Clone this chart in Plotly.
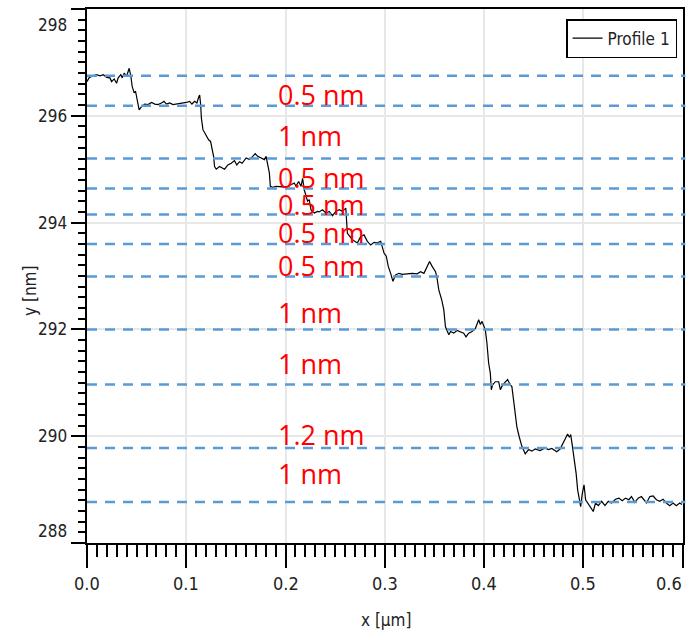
import plotly.graph_objects as go

# ---- profile data (x in µm, y in nm) ----
x_um = [
    0.0000, 0.0020, 0.0047, 0.0097, 0.0131, 0.0164, 0.0198, 0.0231, 0.0248, 0.0274,
    0.0298, 0.0314, 0.0341, 0.0355, 0.0375, 0.0399, 0.0425, 0.0442, 0.0455, 0.0475,
    0.0489, 0.0505, 0.0515, 0.0525,
    0.0549, 0.0582, 0.0615, 0.0650, 0.0683, 0.0716, 0.0750, 0.0776, 0.0800, 0.0833,
    0.0866, 0.0901, 0.0934, 0.0967, 0.1001, 0.1034, 0.1057, 0.1084, 0.1107, 0.1127,
    0.1135, 0.1145, 0.1152, 0.1168, 0.1202, 0.1225, 0.1245, 0.1262, 0.1275,
    0.1285, 0.1302, 0.1335, 0.1386, 0.1419, 0.1453, 0.1486, 0.1509, 0.1536, 0.1563,
    0.1603, 0.1637, 0.1670, 0.1694, 0.1720, 0.1754, 0.1787, 0.1804, 0.1820, 0.1837,
    0.1847,
    0.1871, 0.1905, 0.1938, 0.1971, 0.2005, 0.2055, 0.2088, 0.2105, 0.2132, 0.2156,
    0.2172, 0.2189, 0.2206, 0.2222, 0.2239, 0.2256, 0.2289, 0.2322,
    0.2339, 0.2372, 0.2407, 0.2440, 0.2473, 0.2507, 0.2540, 0.2573, 0.2607, 0.2623,
    0.2674, 0.2724, 0.2758, 0.2791, 0.2824, 0.2858, 0.2892, 0.2925, 0.2959, 0.2975,
    0.2992, 0.3015, 0.3035, 0.3059, 0.3082,
    0.3109, 0.3143, 0.3176, 0.3210, 0.3243, 0.3276, 0.3326, 0.3360, 0.3394, 0.3427,
    0.3451, 0.3477, 0.3511, 0.3527, 0.3544, 0.3574, 0.3594, 0.3611,
    0.3627, 0.3645, 0.3662, 0.3695, 0.3728, 0.3762, 0.3795, 0.3818, 0.3845, 0.3879,
    0.3913, 0.3946, 0.3963, 0.3979, 0.3996, 0.4013, 0.4029, 0.4046, 0.4063, 0.4073,
    0.4086, 0.4113, 0.4147, 0.4164, 0.4187, 0.4214, 0.4237, 0.4264, 0.4280, 0.4297,
    0.4314, 0.4330, 0.4354, 0.4381, 0.4415,
    0.4448, 0.4481, 0.4515, 0.4548, 0.4565, 0.4615, 0.4648, 0.4682, 0.4732, 0.4766,
    0.4799, 0.4822, 0.4842, 0.4859, 0.4873, 0.4890, 0.4910, 0.4927, 0.4943, 0.4960,
    0.4973, 0.4990, 0.5007, 0.5023, 0.5043, 0.5067, 0.5100, 0.5123, 0.5151, 0.5184,
    0.5218, 0.5251, 0.5284, 0.5324, 0.5358, 0.5392, 0.5425, 0.5459, 0.5485, 0.5519,
    0.5552, 0.5585, 0.5612, 0.5636, 0.5670, 0.5703, 0.5736, 0.5770, 0.5803, 0.5836,
    0.5870, 0.5904, 0.5937, 0.5971, 0.5994,
]
y_nm = [
    296.64, 296.71, 296.74, 296.77, 296.75, 296.77, 296.72, 296.71, 296.64, 296.69,
    296.61, 296.71, 296.77, 296.71, 296.80, 296.74, 296.89, 296.74, 296.55, 296.43,
    296.46, 296.33, 296.24, 296.11,
    296.17, 296.22, 296.21, 296.25, 296.22, 296.21, 296.24, 296.27, 296.22, 296.24,
    296.21, 296.22, 296.22, 296.24, 296.25, 296.27, 296.22, 296.27, 296.24, 296.36,
    296.39, 296.21, 295.96, 295.74, 295.64, 295.55, 295.52, 295.36, 295.24,
    295.05, 295.00, 295.05, 295.00, 295.08, 295.11, 295.16, 295.08, 295.14, 295.11,
    295.21, 295.18, 295.24, 295.29, 295.24, 295.21, 295.18, 295.24, 295.11, 294.93,
    294.68,
    294.66, 294.68, 294.68, 294.67, 294.66, 294.71, 294.74, 294.68, 294.77, 294.68,
    294.83, 294.61, 294.49, 294.40, 294.43, 294.24, 294.18, 294.21,
    294.20, 294.24, 294.18, 294.21, 294.13, 294.21, 294.24, 294.21, 294.27, 293.80,
    293.68, 293.62, 293.74, 293.77, 293.65, 293.58, 293.63, 293.62, 293.65, 293.55,
    293.43, 293.37, 293.18, 293.05, 292.90,
    293.02, 293.05, 293.03, 293.04, 293.05, 293.05, 293.04, 293.08, 293.05, 293.18,
    293.27, 293.18, 293.08, 292.95, 292.74, 292.55, 292.37, 292.05,
    291.96, 291.90, 291.96, 291.93, 291.98, 291.96, 291.93, 291.86, 291.93, 291.96,
    292.02, 292.18, 292.09, 292.15, 292.05, 291.99, 291.74, 291.37, 291.18, 290.87,
    290.96, 291.02, 291.02, 290.87, 290.96, 291.02, 291.06, 290.96, 290.93, 290.68,
    290.43, 290.18, 289.99, 289.81, 289.67,
    289.75, 289.72, 289.76, 289.74, 289.73, 289.78, 289.75, 289.77, 289.71, 289.76,
    289.87, 289.96, 290.04, 289.98, 290.03, 289.81, 289.56, 289.31, 288.99, 288.78,
    288.68, 288.93, 289.09, 288.81, 288.75, 288.67, 288.59, 288.75, 288.70, 288.78,
    288.70, 288.78, 288.75, 288.82, 288.84, 288.79, 288.84, 288.81, 288.87, 288.76,
    288.84, 288.87, 288.81, 288.75, 288.87, 288.88, 288.81, 288.78, 288.82, 288.75,
    288.70, 288.75, 288.70, 288.75, 288.72,
]

# ---- terrace reference levels (dashed lines) and step labels ----
level_nm = [296.75, 296.19, 295.20, 294.64, 294.15, 293.60, 292.99, 292.00, 290.97, 289.78, 288.77]
step_labels = ["0.5 nm", "1 nm", "0.5 nm", "0.5 nm", "0.5 nm", "0.5 nm", "1 nm", "1 nm", "1.2 nm", "1 nm"]
label_y = [296.39, 295.64, 294.84, 294.33, 293.81, 293.19, 292.31, 291.37, 290.03, 289.31]
label_x = 0.1905

# ---- axes ticks ----
x_ticks = [0.0, 0.1, 0.2, 0.3, 0.4, 0.5, 0.6]
x_tick_text = ["0.0", "0.1", "0.2", "0.3", "0.4", "0.5", "0.6"]
y_ticks = [288, 290, 292, 294, 296, 298]
y_tick_text = ["288", "290", "292", "294", "296", "298"]

TICK_FONT = "DejaVu Sans Condensed, DejaVu Sans, sans-serif"
TXT = "#222222"

fig = go.Figure()
fig.add_trace(go.Scatter(
    x=x_um, y=y_nm, mode="lines", name="Profile 1",
    line=dict(color="black", width=1.2),
))

shapes = []
for lv in level_nm:
    shapes.append(dict(
        type="line", xref="paper", yref="y", x0=0, x1=1.004, y0=lv, y1=lv,
        line=dict(color="#5b9bd5", width=2.5, dash="10px,8px"), layer="above",
    ))

annotations = []
for txt, ly in zip(step_labels, label_y):
    annotations.append(dict(
        x=label_x, y=ly, xref="x", yref="y", text=txt, showarrow=False,
        xanchor="left", yanchor="middle",
        font=dict(family="Open Sans, Noto Sans, sans-serif", size=27, color="#ff0000"),
    ))

# y tick labels (edge labels nudged inward as in the original)
for v, t in zip(y_ticks, y_tick_text):
    shift = 0
    if v == y_ticks[-1]:
        shift = -16
    elif v == y_ticks[0]:
        shift = 12
    annotations.append(dict(
        x=0, y=v, xref="paper", yref="y", text=t, showarrow=False,
        xanchor="right", yanchor="middle", xshift=-18, yshift=shift,
        font=dict(family=TICK_FONT, size=17, color=TXT),
    ))
# x tick labels
for v, t in zip(x_ticks, x_tick_text):
    anchor = "right" if v == x_ticks[-1] else "center"
    annotations.append(dict(
        x=v, y=0, xref="x", yref="paper", text=t, showarrow=False,
        xanchor=anchor, yanchor="middle", yshift=-40, xshift=(1 if anchor == "right" else 0),
        font=dict(family=TICK_FONT, size=18, color=TXT),
    ))
# axis titles
annotations.append(dict(
    x=0.502, y=0, xref="paper", yref="paper", text="x [µm]", showarrow=False,
    xanchor="center", yanchor="middle", yshift=-77,
    font=dict(family=TICK_FONT, size=17, color=TXT),
))
annotations.append(dict(
    x=0, y=0.472, xref="paper", yref="paper", text="y [nm]", showarrow=False,
    xanchor="center", yanchor="middle", xshift=-57, textangle=-90,
    font=dict(family=TICK_FONT, size=17, color=TXT),
))

fig.update_layout(
    width=690, height=631,
    margin=dict(l=87, r=5, t=9, b=88),
    paper_bgcolor="white", plot_bgcolor="white",
    shapes=shapes, annotations=annotations,
    showlegend=True,
    legend=dict(
        x=0.99, y=0.981, xanchor="right", yanchor="top",
        bgcolor="white", bordercolor="black", borderwidth=1.5,
        font=dict(family=TICK_FONT, size=17, color=TXT),
        itemwidth=30,
    ),
    xaxis=dict(
        range=[0, 0.6004], tickvals=x_ticks, showticklabels=False,
        ticks="outside", ticklen=23, tickwidth=2, tickcolor="black",
        minor=dict(dtick=0.01, ticks="outside", ticklen=12, tickwidth=1.6, tickcolor="black", showgrid=False),
        showgrid=True, gridcolor="#e8e8e8", gridwidth=2,
        showline=True, linecolor="black", linewidth=2, mirror=True, zeroline=False,
    ),
    yaxis=dict(
        range=[288, 298], tickvals=y_ticks, showticklabels=False,
        ticks="outside", ticklen=14, tickwidth=2, tickcolor="black",
        minor=dict(dtick=0.2, ticks="outside", ticklen=7, tickwidth=1.6, tickcolor="black", showgrid=False),
        showgrid=True, gridcolor="#e8e8e8", gridwidth=2,
        showline=True, linecolor="black", linewidth=2, mirror=True, zeroline=False,
    ),
)

fig.write_html("out.html")
